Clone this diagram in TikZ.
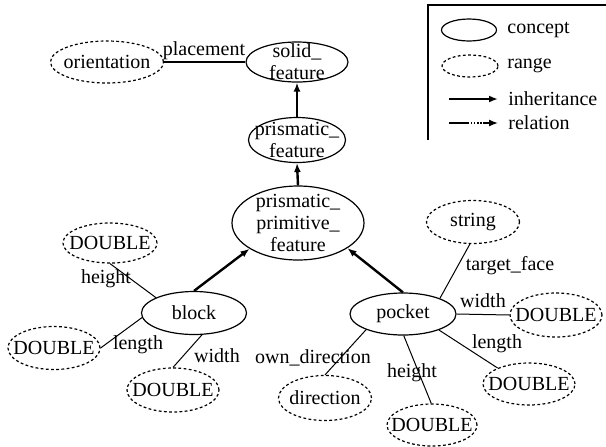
\documentclass[tikz,border=0pt]{standalone}
\usepackage{fontspec}
\setmainfont{Liberation Serif}
\usepackage{tikz}
\usetikzlibrary{arrows.meta,shapes.geometric}

\begin{document}
\begin{tikzpicture}[
  x=0.5pt, y=-0.5pt,
  tag/.style={inner sep=0pt, align=center, font=\fontsize{10}{11}\selectfont},
  concept/.style={ellipse, draw, line width=0.6pt, inner sep=0pt},
  rangebox/.style={ellipse, draw, line width=0.6pt, dash pattern=on 1.4pt off 1.2pt, inner sep=0pt},
  inherit/.style={-{Latex[length=4.5pt,width=3.5pt]}, line width=1.2pt},
  relation/.style={line width=0.5pt}
]
  \useasboundingbox (0,0) rectangle (606,446);

  % concepts
  \node[concept, minimum width=51pt, minimum height=20pt, label={[tag]center:{solid\_\\feature}}] (solid) at (297,62) {};
  \node[concept, minimum width=48.5pt, minimum height=22.5pt, label={[tag]center:{prismatic\_\\feature}}] (pf) at (297,140) {};
  \node[concept, minimum width=66pt, minimum height=37pt, label={[tag]center:{prismatic\_\\primitive\_\\feature}}] (ppf) at (298,223) {};
  \node[concept, minimum width=52.5pt, minimum height=21.5pt, label={[tag]center:block}] (block) at (194,313) {};
  \node[concept, minimum width=53pt, minimum height=21pt, label={[tag]center:pocket}] (pocket) at (403,314) {};

  % ranges
  \node[rangebox, minimum width=56.5pt, minimum height=21pt, label={[tag]center:orientation}] (orient) at (107,62) {};
  \node[rangebox, minimum width=47pt, minimum height=20pt, label={[tag]center:DOUBLE}] (bheight) at (110,243) {};
  \node[rangebox, minimum width=46pt, minimum height=21.5pt, label={[tag]center:DOUBLE}] (blength) at (54,348) {};
  \node[rangebox, minimum width=46pt, minimum height=22pt, label={[tag]center:DOUBLE}] (bwidth) at (173,390) {};
  \node[rangebox, minimum width=46.5pt, minimum height=21.5pt, label={[tag]center:string}] (string) at (473,222) {};
  \node[rangebox, minimum width=46pt, minimum height=22pt, label={[tag]center:DOUBLE}] (pwidth) at (556,315) {};
  \node[rangebox, minimum width=46pt, minimum height=21pt, label={[tag]center:DOUBLE}] (plength) at (529,384) {};
  \node[rangebox, minimum width=45pt, minimum height=21pt, label={[tag]center:DOUBLE}] (pheight) at (432,425) {};
  \node[rangebox, minimum width=46.5pt, minimum height=22.5pt, label={[tag]center:direction}] (direction) at (325,398) {};

  % inheritance
  \draw[inherit] (pf.north) -- (solid.south);
  \draw[inherit] (ppf.north) -- (pf.south);
  \draw[inherit] (block.north) -- (ppf.208);
  \draw[inherit] (pocket.north) -- (ppf.333);

  % relations
  \draw[relation, line width=1pt] (orient.east) -- (solid.west);
  \draw[relation] (bheight.south) -- (block.158);
  \draw[relation] (blength.east) -- (block.185);
  \draw[relation] (bwidth.north) -- (block.290);
  \draw[relation] (string.262) -- (pocket.23);
  \draw[relation] (pocket.east) -- (pwidth.west);
  \draw[relation] (pocket.336) -- (plength.153);
  \draw[relation] (pocket.272) -- (pheight.92);
  \draw[relation] (pocket.203) -- (direction.north);

  \node[tag] (lplace) at (204,51) {placement};
  \node[tag] (lbheight) at (106,279) {height};
  \node[tag] (lblength) at (138,345) {length};
  \node[tag] (lbwidth) at (217,356) {width};
  \node[tag] (ltarget) at (510,266) {target\_face};
  \node[tag] (lpwidth) at (483,301) {width};
  \node[tag] (lplength) at (497,344) {length};
  \node[tag] (lpheight) at (412,373) {height};
  \node[tag] (lowndir) at (313,358) {own\_direction};

  % legend
  \draw[line width=0.6pt] (606,5) -- (428,5) -- (428,140);
  \node[concept, minimum width=27.5pt, minimum height=11pt] (kconcept) at (469,30) {};
  \node[tag, anchor=west] (tconcept) at (507,30) {concept};
  \node[rangebox, minimum width=28pt, minimum height=11pt] (krange) at (470,66) {};
  \node[tag, anchor=west] (trange) at (507,66) {range};
  \coordinate (ia) at (449,99);
  \coordinate (ib) at (498,99);
  \draw[inherit, line width=0.9pt] (ia) -- (ib);
  \node[tag, anchor=west] (tinherit) at (508,99) {inheritance};
  \coordinate (ra) at (449,123);
  \coordinate (rb) at (498,123);
  \draw[-{Latex[length=4.5pt,width=3.5pt]}, line width=0.7pt, dash pattern=on 10pt off 0.8pt on 0.8pt off 0.8pt on 0.8pt off 0.8pt on 0.8pt off 0.8pt on 0.8pt off 0.8pt on 10pt] (ra) -- (rb);
  \node[tag, anchor=west] (trelation) at (508,123) {relation};
\end{tikzpicture}
\end{document}
